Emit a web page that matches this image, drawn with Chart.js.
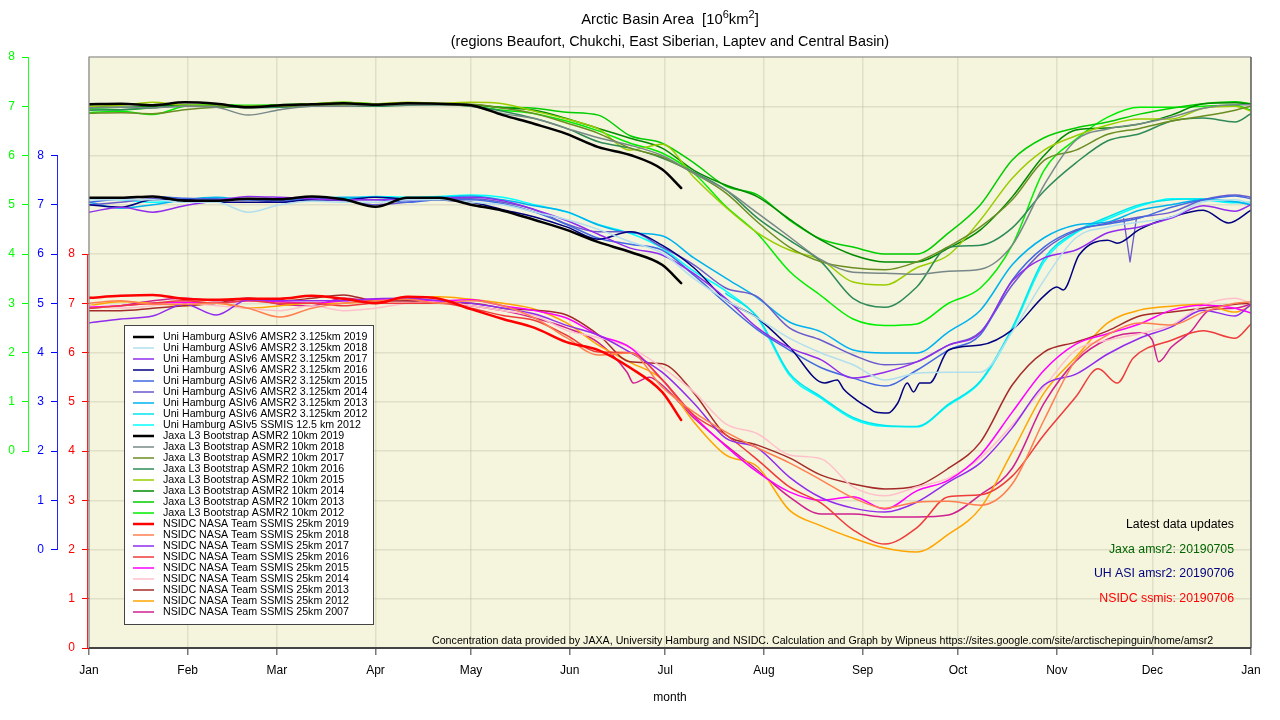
<!DOCTYPE html>
<html>
<head>
<meta charset="utf-8">
<title>Arctic Basin Area</title>
<script src="https://cdn.jsdelivr.net/npm/chart.js@4"></script>
<style>
    html, body { margin: 0; padding: 0; background: #fff; }
    #wrapper { position: relative; width: 1280px; height: 720px; overflow: hidden; }
    canvas { position: absolute; left: 0; top: 0; }
    .titolo { position: absolute; left: 60px; width: 1220px; text-align: center; color: #000;
              font-family: "Liberation Sans", Arial, sans-serif; font-size: 14.4px; line-height: 16px; white-space: pre; }
    .titolo sup { font-size: 11px; line-height: 0; }
</style>
</head>
<body>
<div id="wrapper">
    <canvas id="grafico" width="1280" height="720"></canvas>
    <div class="titolo" style="top:11px;font-size:14.8px">Arctic Basin Area  [10<sup>6</sup>km<sup>2</sup>]</div>
    <div class="titolo" style="top:33px">(regions Beaufort, Chukchi, East Siberian, Laptev and Central Basin)</div>
</div>
<script>
"use strict"

// day of the year of every reading, 2019 stops in July
const days = [0,10,20,30,40,50,60,70,80,90,100,110,120,130,140,150,160,170,180,190,200,210,220,230,240,250,260,270,280,290,300,310,320,330,340,350,360,365];
const days2019 = [0,10,20,30,40,50,60,70,80,90,100,110,120,130,140,150,160,170,180,186];
// these three have sharper features, so they get their own readings
const daysUh2016 = [0,10,20,30,40,50,60,70,80,90,100,110,120,130,140,150,160,170,180,190,200,210,220,231,235,237,241,245,247,251,254,257,259,261,264,270,280,290,300,304,306,311,320,323,330,340,350,358,365];
const daysNsidc2016 = [0,10,20,30,40,50,60,70,80,90,100,110,120,130,140,150,160,170,180,190,200,210,220,230,240,250,260,270,280,290,300,310,317,323,328,340,350,360,365];
const daysNsidc2007 = [0,10,20,30,40,50,60,70,80,90,100,110,120,130,140,150,160,169,171,176,180,190,200,210,220,230,240,250,260,270,280,290,300,310,320,330,334,336,340,346,352,360,365];

const monthDays = [0,31,59,90,120,151,181,212,243,273,304,334,365];
const monthLabels = ["Jan","Feb","Mar","Apr","May","Jun","Jul","Aug","Sep","Oct","Nov","Dec","Jan"];
const axisTicks = [0,1,2,3,4,5,6,7,8];

// Uni Hamburg, blue axis
const uh2019 = [7.14,7.14,7.17,7.08,7.08,7.12,7.11,7.17,7.11,6.96,7.14,7.14,7.0,6.88,6.69,6.49,6.24,6.04,5.78,5.41];
const uh2018 = [7.1,7.1,7.1,7.05,7.05,6.85,7.0,7.07,7.05,7.05,7.1,7.1,7.05,7.0,6.85,6.7,6.5,6.25,6.02,5.5,5.07,4.7,4.29,3.99,3.75,3.44,3.58,3.6,3.6,4.42,5.47,6.33,6.55,6.65,6.75,7.06,7.1,7.03];
const uh2017 = [6.85,6.95,6.85,6.98,7.08,7.17,7.15,7.12,7.1,7.1,7.1,7.13,7.15,7.08,6.9,6.68,6.4,6.12,5.98,5.6,5.1,4.5,4.1,3.85,3.48,3.6,3.81,4.15,4.4,5.45,5.92,6.08,6.43,6.55,6.73,6.98,6.87,7.0];
const uh2016 = [7.0,6.95,7.1,7.1,7.05,7.05,7.05,7.1,7.1,7.15,7.12,7.1,7.05,6.9,6.75,6.55,6.3,6.45,6.18,5.72,5.07,4.7,4.11,3.38,3.44,3.26,3.04,2.87,2.79,2.77,2.97,3.38,3.2,3.38,3.38,4.05,4.15,4.46,5.15,5.33,5.27,5.98,6.28,6.22,6.5,6.75,6.89,6.63,6.89];
const uh2015 = [7.05,7.12,7.17,7.13,7.12,7.1,7.08,7.13,7.1,7.1,7.05,7.1,7.1,7.02,6.85,6.6,6.32,6.2,6.08,5.57,5.0,4.46,4.05,3.69,3.48,3.32,3.64,4.05,4.36,5.47,6.14,6.49,6.61,6.73,6.95,7.1,7.18,7.12];
const uh2014 = [7.0,7.05,7.12,7.12,7.1,7.1,7.05,7.1,7.08,7.0,7.05,7.12,7.12,7.05,6.9,6.61,6.45,6.45,6.14,5.78,5.31,5.13,4.5,4.25,3.95,3.75,3.81,4.15,4.42,5.37,6.08,6.47,6.63,6.75,6.85,7.1,7.2,7.15];
const uh2013 = [7.05,6.93,7.0,7.1,7.15,7.1,7.1,7.13,7.15,7.15,7.1,7.15,7.18,7.1,6.98,6.86,6.59,6.43,6.37,5.92,5.51,5.11,4.62,4.42,4.05,3.99,3.99,4.42,4.86,5.78,6.33,6.59,6.65,6.89,7.0,7.1,7.06,7.0];
const uh2012 = [null,null,null,null,null,null,null,null,null,null,null,null,null,null,null,null,null,null,null,null,5.2,4.72,3.58,3.1,2.68,2.52,2.5,2.95,3.42,4.5,5.9,6.45,6.75,7.0,7.1,7.12,7.06,7.03];
const uhSsmis2012 = [7.12,7.1,7.05,7.08,7.1,7.12,7.1,7.1,7.12,7.17,7.15,7.17,7.2,7.15,7.0,6.85,6.6,6.42,6.12,5.65,5.25,4.7,3.54,3.07,2.65,2.5,2.49,2.93,3.4,4.46,5.84,6.43,6.71,6.97,7.12,7.1,7.04,7.05];
// one bad day in the 2014 Hamburg series, end of November
const spikeDays = [325,327,329];
const spike2014 = [6.72,5.84,6.72];

// Jaxa, green axis
const jaxa2019 = [7.04,7.05,7.02,7.08,7.05,6.98,7.02,7.04,7.06,7.03,7.06,7.05,7.02,6.82,6.64,6.44,6.17,6.01,5.72,5.34];
const jaxa2018 = [6.97,6.98,6.97,7.0,6.98,6.82,6.93,7.0,7.0,7.02,7.03,7.03,7.0,6.85,6.75,6.55,6.36,6.21,6.0,5.64,5.3,4.83,4.35,3.88,3.63,3.61,3.59,3.65,3.69,4.18,5.4,6.31,6.54,6.64,6.78,6.96,7.03,7.03];
const jaxa2017 = [6.86,6.87,6.85,6.93,6.98,7.0,7.0,7.02,7.03,7.05,7.05,7.04,7.04,6.96,6.85,6.66,6.45,6.15,5.97,5.64,5.24,4.65,4.14,3.84,3.72,3.68,3.84,4.15,4.55,5.1,5.9,6.11,6.43,6.55,6.7,6.8,6.92,7.0];
const jaxa2016 = [6.92,6.93,6.97,7.0,7.0,6.97,6.98,7.0,7.0,7.0,7.02,7.03,7.0,6.9,6.75,6.55,6.28,6.15,5.95,5.66,5.3,4.73,4.28,3.84,3.1,2.92,3.33,4.14,4.18,4.53,5.28,5.85,6.3,6.44,6.7,6.76,6.68,6.85];
const jaxa2015 = [7.0,7.02,7.08,7.02,7.02,7.0,7.02,7.05,7.08,7.05,7.08,7.06,7.08,7.05,6.9,6.74,6.54,6.11,6.23,5.56,4.95,4.43,4.08,3.88,3.43,3.37,3.72,3.98,4.69,5.54,6.11,6.4,6.62,6.74,6.74,6.96,7.0,6.9];
const jaxa2014 = [7.0,6.98,7.0,7.02,7.0,6.98,7.0,7.02,7.04,7.03,7.05,7.04,7.03,6.97,6.92,6.75,6.55,6.35,6.15,5.7,5.4,5.16,4.71,4.28,3.98,3.84,3.84,4.12,4.49,5.16,6.0,6.52,6.56,6.64,6.82,7.05,7.07,7.05];
const jaxa2013 = [6.95,6.93,6.97,7.02,6.98,7.0,7.0,7.04,7.06,7.04,7.06,7.05,7.03,6.98,6.96,6.88,6.82,6.4,6.25,5.85,5.38,5.2,4.69,4.3,4.14,4.0,4.0,4.43,5.0,5.91,6.36,6.56,6.68,6.84,6.96,7.05,7.09,7.05];
const jaxa2012 = [6.87,6.9,6.83,7.0,7.03,7.02,7.03,7.05,7.08,7.05,7.06,7.05,7.0,6.92,6.85,6.7,6.5,6.25,6.05,5.64,4.97,4.41,3.65,3.15,2.68,2.55,2.58,3.0,3.31,4.18,5.7,6.33,6.78,6.98,6.98,7.0,7.02,6.92];

// NSIDC, red axis
const nsidc2019 = [7.11,7.15,7.17,7.09,7.07,7.09,7.09,7.15,7.09,7.0,7.13,7.09,6.88,6.68,6.5,6.21,6.05,5.69,5.2,4.63];
const nsidc2018 = [7.0,7.05,6.98,6.98,7.0,6.9,6.72,6.9,7.0,7.05,7.08,7.0,7.05,6.95,6.7,6.3,5.95,5.99,5.3,4.79,4.39,4.06,3.76,3.41,3.05,2.84,2.96,2.98,2.9,3.33,4.63,5.85,6.36,6.6,6.56,6.82,7.0,7.03];
const nsidc2017 = [6.6,6.68,6.74,6.98,6.76,7.07,7.05,7.05,7.05,7.09,7.1,7.05,7.0,6.9,6.78,6.55,6.35,6.0,5.6,4.97,4.26,4.06,3.47,3.05,2.84,2.76,2.96,3.37,3.76,4.47,5.34,5.56,5.97,6.29,6.52,6.86,6.74,6.98];
const nsidc2016 = [6.9,6.95,7.0,7.05,7.0,7.05,7.0,7.0,6.95,7.0,7.0,7.0,6.9,6.75,6.65,6.35,6.01,6.0,5.45,4.73,4.33,3.82,3.27,2.94,2.4,2.11,2.44,3.07,3.11,3.49,4.33,5.1,5.67,5.38,5.89,6.25,6.44,6.29,6.58];
const nsidc2015 = [6.92,6.95,7.0,7.02,7.0,7.05,7.03,7.0,7.05,7.08,7.08,7.05,7.07,6.95,6.85,6.7,6.35,6.1,5.45,4.71,4.1,3.57,3.17,3.0,3.07,2.82,3.19,3.41,3.92,4.79,5.64,6.17,6.38,6.58,6.86,6.96,6.9,6.8];
const nsidc2014 = [6.95,6.9,6.95,7.0,6.95,6.9,6.85,6.95,6.85,6.9,7.0,7.03,6.95,6.85,6.75,6.45,6.3,6.1,5.7,5.2,4.55,4.35,3.92,3.84,3.27,3.09,3.27,3.45,3.86,4.53,5.3,6.05,6.25,6.38,6.56,6.96,7.1,7.0];
const nsidc2013 = [6.85,6.85,6.9,6.95,7.0,7.1,7.05,7.1,7.17,7.05,7.05,7.0,7.0,6.9,6.86,6.76,6.36,5.81,5.77,5.18,4.33,4.12,3.86,3.51,3.33,3.23,3.29,3.65,4.18,5.34,6.01,6.21,6.44,6.74,6.82,6.9,6.98,7.0];
const nsidc2012 = [6.95,7.03,7.0,6.95,7.0,6.9,6.95,7.0,7.0,7.05,7.1,7.13,7.08,7.0,6.88,6.6,6.15,5.8,5.45,4.59,3.92,3.68,2.8,2.48,2.23,2.03,1.95,2.31,2.84,3.98,5.18,5.91,6.6,6.86,6.94,6.98,6.82,6.95];
const nsidc2007 = [6.9,6.95,7.05,7.1,7.05,7.1,6.98,6.95,7.1,7.05,7.05,7.03,6.95,6.85,6.7,6.5,6.2,5.6,5.38,5.5,5.34,4.67,4.12,3.61,3.07,2.72,2.72,2.66,2.66,2.7,3.11,3.65,4.97,5.83,6.27,6.4,6.25,5.81,6.11,6.42,6.86,6.9,6.98];

const latestUpdates = [
    ["Latest data updates", "#000000", 528],
    ["Jaxa amsr2: 20190705", "#006400", 553],
    ["UH ASI amsr2: 20190706", "#000080", 577],
    ["NSIDC ssmis: 20190706", "#ff0000", 602]
];
const credits = "Concentration data provided by JAXA, University Hamburg and NSIDC. Calculation and Graph by Wipneus https://sites.google.com/site/arctischepinguin/home/amsr2";

const font = "Liberation Sans";
const griglia = "rgba(170,170,150,0.28)";

function serie(label, values, colore, asse, giorni, spessore) {
    return {
        label: label,
        data: values.map(function (v, i) { return { x: giorni[i], y: v }; }),
        borderColor: colore,
        backgroundColor: colore,
        borderWidth: spessore,
        yAxisID: asse,
        pointRadius: 0,
        cubicInterpolationMode: "monotone",
        borderJoinStyle: "round",
        spanGaps: false
    };
}

const HAM = "Uni Hamburg ASIv6 AMSR2 3.125km ";
const JAX = "Jaxa L3 Bootstrap ASMR2 10km ";
const NAS = "NSIDC NASA Team SSMIS 25km ";

// the first dataset ends up on top, same order of the legend
let datasets = [
    serie(HAM + "2019", uh2019, "#000000", "blue", days2019, 2.5),
    serie(HAM + "2018", uh2018, "#b2dfee", "blue", days, 1.5),
    serie(HAM + "2017", uh2017, "#912cee", "blue", days, 1.5),
    serie(HAM + "2016", uh2016, "#000080", "blue", daysUh2016, 1.5),
    serie(HAM + "2015", uh2015, "#4169e1", "blue", days, 1.5),
    serie(HAM + "2014", uh2014, "#6a5acd", "blue", days, 1.5),
    serie(HAM + "2013", uh2013, "#00b2ee", "blue", days, 1.5),
    serie(HAM + "2012", uh2012, "#00e5ee", "blue", days, 1.5),
    serie("Uni Hamburg ASIv5 SSMIS 12.5 km 2012", uhSsmis2012, "#00ffff", "blue", days, 1.5),
    serie(JAX + "2019", jaxa2019, "#000000", "green", days2019, 2.5),
    serie(JAX + "2018", jaxa2018, "#778888", "green", days, 1.5),
    serie(JAX + "2017", jaxa2017, "#6b8e23", "green", days, 1.5),
    serie(JAX + "2016", jaxa2016, "#2e8b57", "green", days, 1.5),
    serie(JAX + "2015", jaxa2015, "#9acd00", "green", days, 1.5),
    serie(JAX + "2014", jaxa2014, "#008b00", "green", days, 1.5),
    serie(JAX + "2013", jaxa2013, "#00cd00", "green", days, 1.5),
    serie(JAX + "2012", jaxa2012, "#00ee00", "green", days, 1.5),
    serie(NAS + "2019", nsidc2019, "#ff0000", "red", days2019, 2.5),
    serie(NAS + "2018", nsidc2018, "#ff7f50", "red", days, 1.5),
    serie(NAS + "2017", nsidc2017, "#912cee", "red", days, 1.5),
    serie(NAS + "2016", nsidc2016, "#ee3b3b", "red", daysNsidc2016, 1.5),
    serie(NAS + "2015", nsidc2015, "#ff00ff", "red", days, 1.5),
    serie(NAS + "2014", nsidc2014, "#ffc0cb", "red", days, 1.5),
    serie(NAS + "2013", nsidc2013, "#a52a2a", "red", days, 1.5),
    serie(NAS + "2012", nsidc2012, "#ffa500", "red", days, 1.5),
    serie(NAS + "2007", nsidc2007, "#d02090", "red", daysNsidc2007, 1.5)
];
let legendItems = datasets.map(function (d) { return { text: d.label, color: d.borderColor, width: d.borderWidth }; });
let spike = serie("", spike2014, "#6a5acd", "blue", spikeDays, 1.3);
spike.cubicInterpolationMode = "default";
spike.tension = 0;
datasets.push(spike);

// left axis that only shows 0..8 whatever the range of the scale
function asseSinistro(min, max, colore, peso, larghezza) {
    return {
        type: "linear", position: "left", min: min, max: max, weight: peso,
        afterFit: function (scale) { scale.width = larghezza; },
        afterBuildTicks: function (scale) { scale.ticks = axisTicks.map(function (v) { return { value: v }; }); },
        border: { display: false },
        grid: { drawOnChartArea: false, drawTicks: true, tickLength: 7, color: colore, tickColor: colore },
        ticks: { color: colore, padding: 7, autoSkip: false, font: { family: font, size: 12 } }
    };
}

const sfondoEBordi = {
    id: "sfondoEBordi",
    beforeDraw: function (chart) {
        const a = chart.chartArea;
        const c = chart.ctx;
        c.fillStyle = "#ffffff";
        c.fillRect(0, 0, chart.width, chart.height);
        c.fillStyle = "#f5f4dc";
        c.fillRect(a.left, a.top, a.right - a.left, a.bottom - a.top);
    },
    afterDatasetsDraw: function (chart) {
        const a = chart.chartArea;
        const c = chart.ctx;
        c.save();
        // the colored axis lines stop at tick 8
        for (const [id, colore, x] of [["green", "#22ff22", 28.5], ["blue", "#2222ff", 57.5], ["red", "#ff2222", 87.5]]) {
            const s = chart.scales[id];
            c.strokeStyle = colore;
            c.lineWidth = 1;
            c.beginPath();
            c.moveTo(x, s.getPixelForValue(0));
            c.lineTo(x, s.getPixelForValue(8));
            c.stroke();
        }
        c.strokeStyle = "#8a8a8a";
        c.lineWidth = 1.2;
        c.beginPath();
        c.moveTo(a.left, a.bottom);
        c.lineTo(a.left, a.top);
        c.lineTo(a.right, a.top);
        c.stroke();
        c.strokeStyle = "#666666";
        c.lineWidth = 1.6;
        c.beginPath();
        c.moveTo(a.right, a.top);
        c.lineTo(a.right, a.bottom);
        c.stroke();
        c.strokeStyle = "#444444";
        c.lineWidth = 2;
        c.beginPath();
        c.moveTo(a.left, a.bottom);
        c.lineTo(a.right, a.bottom);
        c.stroke();

        // legend
        c.fillStyle = "#ffffff";
        c.fillRect(124.5, 325.5, 249, 299);
        c.strokeStyle = "#444444";
        c.lineWidth = 1;
        c.strokeRect(124.5, 325.5, 249, 299);
        c.font = "10.66px " + font;
        c.textAlign = "left";
        c.textBaseline = "middle";
        legendItems.forEach(function (item, i) {
            const y = 337 + i * 11;
            c.strokeStyle = item.color;
            c.lineWidth = item.width;
            c.beginPath();
            c.moveTo(133, y);
            c.lineTo(154, y);
            c.stroke();
            c.fillStyle = "#000000";
            c.fillText(item.text, 163, y);
        });

        // notes
        c.textBaseline = "alphabetic";
        c.fillStyle = "#000000";
        c.fillText(credits, 432, 644);
        c.font = "12.3px " + font;
        c.textAlign = "right";
        for (const [testo, colore, y] of latestUpdates) {
            c.fillStyle = colore;
            c.fillText(testo, 1234, y);
        }
        c.restore();
    }
};

new Chart(document.getElementById("grafico"), {
    type: "line",
    data: { datasets: datasets },
    plugins: [sfondoEBordi],
    options: {
        responsive: false,
        animation: false,
        devicePixelRatio: 1,
        layout: { padding: { top: 57, right: 29, bottom: 0, left: 0 } },
        plugins: { legend: { display: false }, title: { display: false }, tooltip: { enabled: false } },
        elements: { line: { borderCapStyle: "round" } },
        scales: {
            x: {
                type: "linear", min: 0, max: 365,
                afterFit: function (scale) { scale.height = 72; },
                afterBuildTicks: function (scale) { scale.ticks = monthDays.map(function (v) { return { value: v }; }); },
                border: { display: false },
                grid: { color: griglia, lineWidth: 1.5, tickLength: 7, tickColor: "#777777" },
                ticks: {
                    color: "#000000", padding: 8, autoSkip: false, maxRotation: 0,
                    font: { family: font, size: 12 },
                    callback: function (v) { return monthLabels[monthDays.indexOf(v)]; }
                },
                title: { display: true, text: "month", color: "#000000", font: { family: font, size: 12 }, padding: { top: 4, bottom: 15 } }
            },
            griglia: {
                type: "linear", position: "right", min: 0, max: 12,
                afterFit: function (scale) { scale.width = 0; },
                border: { display: false },
                grid: { color: griglia, lineWidth: 1.5, drawTicks: false },
                ticks: { display: false, stepSize: 1 }
            },
            green: asseSinistro(-4, 8, "#00ff00", 3, 29),
            blue: asseSinistro(-2, 10, "#0000ff", 2, 29),
            red: asseSinistro(0, 12, "#ff0000", 1, 31)
        }
    }
});
</script>
</body>
</html>
